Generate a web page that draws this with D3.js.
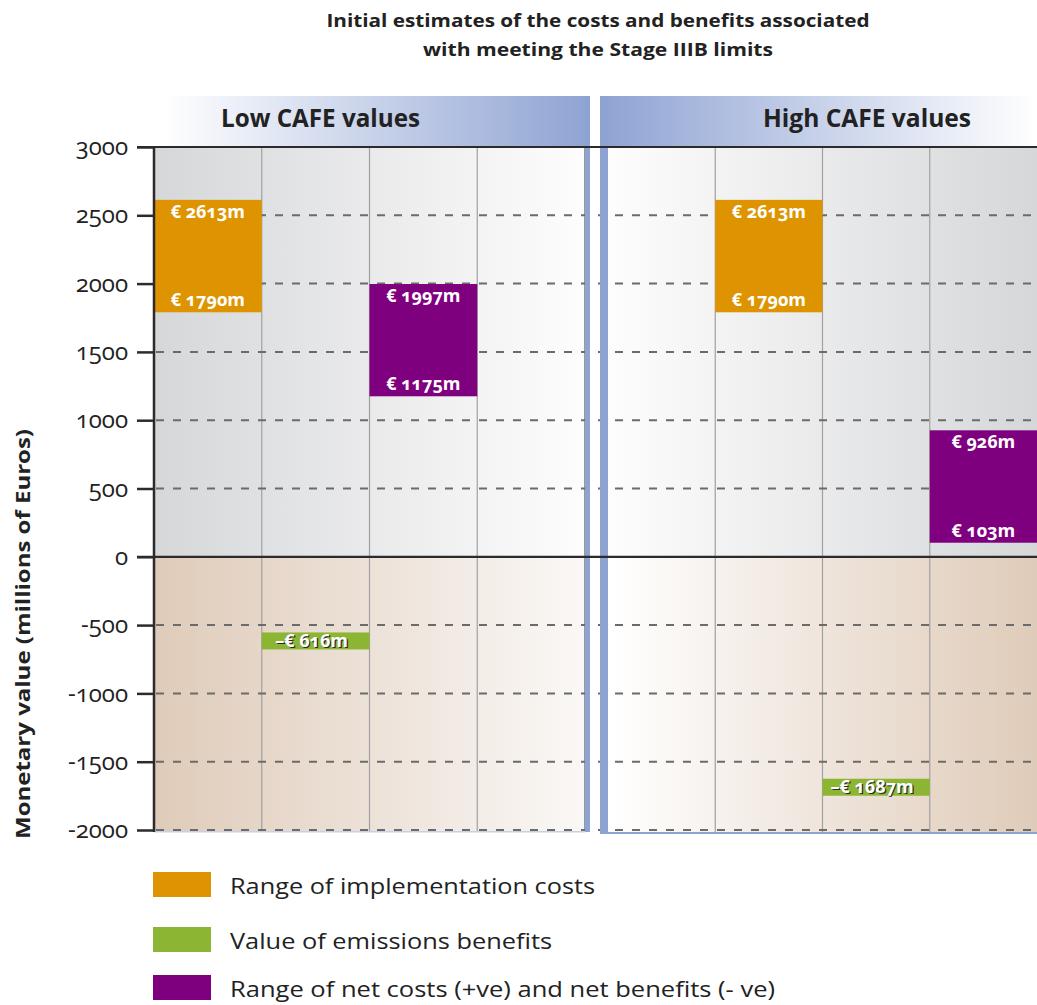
<!DOCTYPE html>
<html>
<head>
<meta charset="utf-8">
<script src="https://cdn.jsdelivr.net/npm/d3@7"></script>
<style>
  html, body { margin: 0; padding: 0; background: #fff; }
  svg { display: block; }
  text { font-family: "Open Sans", "Noto Sans", sans-serif; }
</style>
</head>
<body>
<svg id="chart" width="1037" height="1005"></svg>
<script>
// ---- data ----
const panelNames = ["Low CAFE values", "High CAFE values"];
const costLow = [1790, 1790];      // implementation cost range, lower end
const costHigh = [2613, 2613];     // implementation cost range, upper end
const benefitValue = [-616, -1687];// value of emissions benefits
const netLow = [1175, 103];        // net cost range, lower end
const netHigh = [1997, 926];       // net cost range, upper end
const costColumn = [0, 1];         // column slot of each series within a panel
const benefitColumn = [1, 2];
const netColumn = [2, 3];
const yTicks = [3000, 2500, 2000, 1500, 1000, 500, 0, -500, -1000, -1500, -2000];
const legendLabels = [
  "Range of implementation costs",
  "Value of emissions benefits",
  "Range of net costs (+ve) and net benefits (- ve)"
];

const COLORS = { cost: "#de9400", benefit: "#8db534", net: "#7f007f", band: "#8fa3d3" };

const svg = d3.select("#chart");
const defs = svg.append("defs");

// ---- scales ----
const y = d3.scaleLinear().domain([-2000, 3000]).range([830, 147]);
const panelRanges = [[154, 585], [608, 1037]];
const xCols = panelRanges.map(r => d3.scaleBand().domain([0, 1, 2, 3]).range(r).padding(0));

// ---- gradients ----
function grad(id, from, to) {
  const g = defs.append("linearGradient").attr("id", id).attr("x1", "0").attr("x2", "1").attr("y1", "0").attr("y2", "0");
  g.append("stop").attr("offset", "0").attr("stop-color", from);
  g.append("stop").attr("offset", "1").attr("stop-color", to);
}
grad("topL", "#d6d7d9", "#fdfdfd");
grad("topR", "#fdfdfd", "#d6d7d9");
grad("botL", "#dfcbb9", "#faf8f6");
grad("botR", "#ffffff", "#dfcbb9");
grad("headL", "#ffffff", COLORS.band);
grad("headR", COLORS.band, "#ffffff");

// ---- title ----
const title = svg.append("g").attr("font-weight", 700).attr("font-size", 18).attr("fill", "#222").attr("text-anchor", "middle");
title.append("text").attr("x", 598).attr("y", 27).attr("textLength", 543).attr("lengthAdjust", "spacingAndGlyphs")
  .text("Initial estimates of the costs and benefits associated");
title.append("text").attr("x", 598).attr("y", 56).attr("textLength", 350).attr("lengthAdjust", "spacingAndGlyphs")
  .text("with meeting the Stage IIIB limits");

// ---- panel header bands ----
svg.append("rect").attr("x", 163).attr("y", 96).attr("width", 427).attr("height", 51).attr("fill", "url(#headL)");
svg.append("rect").attr("x", 600).attr("y", 96).attr("width", 437).attr("height", 51).attr("fill", "url(#headR)");
const headTitle = svg.append("g").attr("font-weight", 700).attr("font-size", 25).attr("fill", "#222");
headTitle.append("text").attr("x", 221).attr("y", 127).attr("textLength", 199).attr("lengthAdjust", "spacingAndGlyphs").text(panelNames[0]);
headTitle.append("text").attr("x", 763).attr("y", 127).attr("textLength", 208).attr("lengthAdjust", "spacingAndGlyphs").text(panelNames[1]);

// ---- panel backgrounds ----
const y0 = y(0);
svg.append("rect").attr("x", 154).attr("y", y(3000)).attr("width", 431).attr("height", y0 - y(3000)).attr("fill", "url(#topL)");
svg.append("rect").attr("x", 608).attr("y", y(3000)).attr("width", 429).attr("height", y0 - y(3000)).attr("fill", "url(#topR)");
svg.append("rect").attr("x", 154).attr("y", y0).attr("width", 431).attr("height", y(-2000) - y0 + 2).attr("fill", "url(#botL)");
svg.append("rect").attr("x", 608).attr("y", y0).attr("width", 429).attr("height", y(-2000) - y0 + 2).attr("fill", "url(#botR)");

// ---- column separators ----
panelRanges.forEach((r, p) => {
  const xs = xCols[p];
  [1, 2, 3].forEach(c => {
    svg.append("line").attr("x1", xs(c)).attr("x2", xs(c)).attr("y1", y(3000)).attr("y2", y(-2000) + 2)
      .attr("stroke", "#a0a0a0").attr("stroke-width", 1.2);
  });
});
svg.append("line").attr("x1", 584.5).attr("x2", 584.5).attr("y1", y(3000)).attr("y2", y(-2000) + 2)
  .attr("stroke", "#9a9a9a").attr("stroke-width", 1);

// ---- dashed gridlines ----
const gridTicks = yTicks.filter(v => v !== 0 && v !== 3000);
svg.append("g").selectAll("line").data(gridTicks).join("line")
  .attr("x1", 156).attr("x2", 1037)
  .attr("y1", d => y(d)).attr("y2", d => y(d))
  .attr("stroke", "#6b6b6b").attr("stroke-width", 2).attr("stroke-dasharray", "8,9");

// ---- bars ----
const bars = svg.append("g");
function rangeBar(p, col, lo, hi, color) {
  const xs = xCols[p];
  bars.append("rect").attr("x", xs(col)).attr("width", xs.bandwidth())
    .attr("y", y(hi)).attr("height", y(lo) - y(hi)).attr("fill", color);
}
[0, 1].forEach(p => {
  rangeBar(p, costColumn[p], costLow[p], costHigh[p], COLORS.cost);
  rangeBar(p, netColumn[p], netLow[p], netHigh[p], COLORS.net);
  const xs = xCols[p];
  bars.append("rect").attr("x", xs(benefitColumn[p])).attr("width", xs.bandwidth())
    .attr("y", y(benefitValue[p]) - 8.5).attr("height", 17).attr("fill", COLORS.benefit);
});

// ---- bar labels ----
const fmt = v => (v < 0 ? "\u2013\u20ac " : "\u20ac ") + Math.abs(v) + "m";
const labels = svg.append("g").attr("font-weight", 700).attr("font-size", 18).attr("fill", "#fff")
  .attr("text-anchor", "middle").style("font-variant-numeric", "oldstyle-nums");
function rangeLabels(p, col, lo, hi) {
  const xs = xCols[p];
  const cx = xs(col) + xs.bandwidth() / 2;
  labels.append("text").attr("x", cx).attr("y", y(hi) + 18).text(fmt(hi));
  labels.append("text").attr("x", cx).attr("y", y(lo) - 6).text(fmt(lo));
}
[0, 1].forEach(p => {
  rangeLabels(p, costColumn[p], costLow[p], costHigh[p]);
  rangeLabels(p, netColumn[p], netLow[p], netHigh[p]);
  const xs = xCols[p];
  const cx = xs(benefitColumn[p]) + xs.bandwidth() / 2 - 4;
  const by = y(benefitValue[p]) + 6;
  labels.append("text").attr("x", cx + 1.2).attr("y", by + 1.2).attr("fill", "#2a2a2a").text(fmt(benefitValue[p]));
  labels.append("text").attr("x", cx).attr("y", by).text(fmt(benefitValue[p]));
});

// ---- panel divider stripes ----
svg.append("rect").attr("x", 585).attr("y", 96).attr("width", 5).attr("height", y(-2000) + 2 - 96).attr("fill", COLORS.band);
svg.append("rect").attr("x", 600).attr("y", 96).attr("width", 8).attr("height", y(-2000) + 4 - 96).attr("fill", COLORS.band);
svg.append("rect").attr("x", 600).attr("y", y(-2000) + 2).attr("width", 437).attr("height", 2).attr("fill", COLORS.band);
svg.append("rect").attr("x", 154).attr("y", y(-2000) + 1).attr("width", 431).attr("height", 1.5).attr("fill", "#c8d0e6");

// ---- strong horizontal lines at top and zero ----
svg.append("line").attr("x1", 137).attr("x2", 1037).attr("y1", y(3000)).attr("y2", y(3000)).attr("stroke", "#2b2b2b").attr("stroke-width", 2.2);
svg.append("line").attr("x1", 137).attr("x2", 1037).attr("y1", y0).attr("y2", y0).attr("stroke", "#2b2b2b").attr("stroke-width", 2.2);

// ---- y axis ----
const axis = d3.axisLeft(y).tickValues(yTicks).tickSize(17).tickPadding(9)
  .tickFormat(d => d < 0 ? "-" + Math.abs(d) : String(d));
const ax = svg.append("g").attr("transform", "translate(154,0)").call(axis);
ax.select(".domain").attr("stroke", "#2b2b2b").attr("stroke-width", 2.5).attr("d", `M0,${y(3000)}V${y(-2000) + 2}`);
ax.selectAll(".tick line").attr("stroke", "#2b2b2b").attr("stroke-width", 2.5);
ax.selectAll(".tick text").attr("font-size", 24).attr("fill", "#222")
  .attr("font-family", "'Open Sans', sans-serif").style("font-variant-numeric", "oldstyle-nums");

svg.append("text").attr("transform", "translate(30,634) rotate(-90)")
  .attr("text-anchor", "middle").attr("font-weight", 700).attr("font-size", 20).attr("fill", "#222")
  .attr("textLength", 410).attr("lengthAdjust", "spacingAndGlyphs")
  .text("Monetary value (millions of Euros)");

// ---- legend ----
const legendColors = [COLORS.cost, COLORS.benefit, COLORS.net];
const legendTops = [872, 927, 975];
const legendWidths = [365, 322, 545];
const lg = svg.append("g");
legendLabels.forEach((t, i) => {
  lg.append("rect").attr("x", 153).attr("y", legendTops[i]).attr("width", 58).attr("height", 25).attr("fill", legendColors[i]);
  lg.append("text").attr("x", 230).attr("y", legendTops[i] + 22).attr("font-size", 22).attr("fill", "#222")
    .attr("textLength", legendWidths[i]).attr("lengthAdjust", "spacingAndGlyphs").text(t);
});
</script>
</body>
</html>
